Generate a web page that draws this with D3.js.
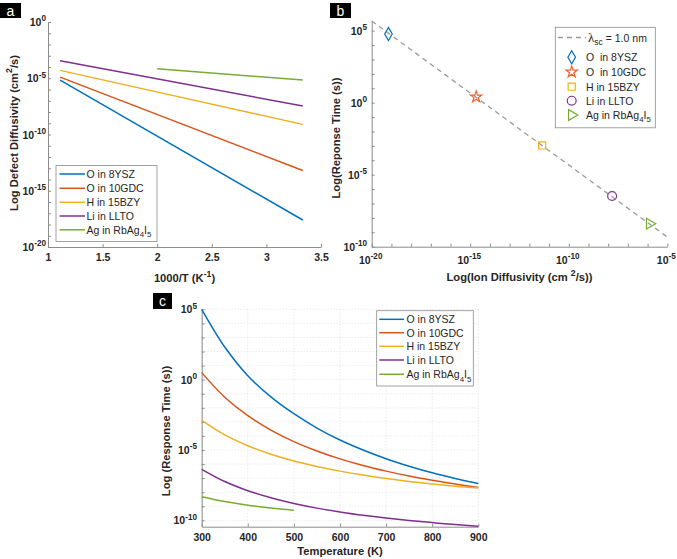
<!DOCTYPE html>
<html>
<head>
<meta charset="utf-8">
<script src="https://cdn.jsdelivr.net/npm/d3@7"></script>
<style>
    body { margin: 0; background: #fff; }
    text { font-family: "Liberation Sans", Arial, sans-serif; white-space: pre; }
</style>
</head>
<body>
<svg id="chart" width="677" height="559"></svg>
<script>
var materials = ["O in 8YSZ", "O in 10GDC", "H in 15BZY", "Li in LLTO", "Ag in RbAg_{4}I_{5}"];
var colors = ["#0072BD", "#D95319", "#EDB120", "#7E2F8E", "#77AC30"];

// panel a: log10 defect diffusivity at the two ends of each Arrhenius line
var invTStart = [1.111, 1.111, 1.111, 1.111, 2.0];
var invTEnd = [3.333, 3.333, 3.333, 3.333, 3.333];
var logDStart = [-5.16, -4.9, -4.3, -3.44, -4.15];
var logDEnd = [-17.6, -13.2, -9.1, -7.47, -5.16];
var aXTicks = [1, 1.5, 2, 2.5, 3, 3.5];
var aYExps = [0, -5, -10, -15, -20];

// panel b: log10 ion diffusivity vs log10 response time
var ionLabels = ["O  in 8YSZ", "O  in 10GDC", "H in 15BZY", "Li in LLTO", "Ag in RbAg_{4}I_{5}"];
var ionLogD = [-19.15, -14.7, -11.35, -7.8, -5.9];
var ionLogT = [4.77, 0.4, -2.97, -6.48, -8.4];
var ionColors = ["#0072BD", "#F4602A", "#EDB120", "#7E2F8E", "#77AC30"];
var fitLogD = [-20, -5];
var fitLogT = [5.67, -9.33];
var bXExps = [-20, -15, -10, -5];
var bYExps = [5, 0, -5, -10];

// panel c: log10 response time vs temperature
var temps = [300, 350, 400, 450, 500, 550, 600, 650, 700, 750, 800, 850, 900];
var tauYSZ = [5.0, 2.32, 0.28, -1.22, -2.42, -3.44, -4.29, -5.0, -5.62, -6.15, -6.62, -7.02, -7.38];
var tauGDC = [0.5, -1.25, -2.56, -3.58, -4.4, -5.07, -5.63, -6.1, -6.5, -6.85, -7.15, -7.42, -7.67];
var tauBZY = [-2.9, -3.93, -4.7, -5.3, -5.78, -6.17, -6.5, -6.78, -7.02, -7.23, -7.41, -7.57, -7.7];
var tauLLTO = [-6.37, -7.24, -7.89, -8.39, -8.8, -9.13, -9.4, -9.64, -9.84, -10.01, -10.16, -10.3, -10.41];
var tempsAg = [300, 350, 400, 450, 500];
var tauAg = [-8.32, -8.66, -8.92, -9.12, -9.28];
var cXTicks = [300, 400, 500, 600, 700, 800, 900];
var cYExps = [5, 0, -5, -10];

var axisColor = "#8c8c8c",
    textColor = "#262626",
    tickSize = 10.5,
    legendSize = 10.5,
    titleSize = 11.2;

var svg = d3.select("#chart");

// text with ^{..} superscripts and _{..} subscripts
function rich(sel, str, size, small) {
    var parts = str.split(/(\^\{[^}]*\}|_\{[^}]*\})/);
    var shift = 0;
    small = small || 0.78;
    parts.forEach(function (p) {
        if (!p) return;
        var t = sel.append("tspan");
        var target = 0, content = p;
        if (p[0] === "^") {
            target = -size * 0.45; content = p.slice(2, -1); t.attr("font-size", size * small);
        } else if (p[0] === "_") {
            target = size * 0.32; content = p.slice(2, -1); t.attr("font-size", size * small);
        }
        t.attr("dy", target - shift).text(content);
        shift = target;
    });
    return sel;
}

function panelTag(x, y, w, h, letter) {
    svg.append("rect").attr("x", x).attr("y", y).attr("width", w).attr("height", h).attr("fill", "#000");
    svg.append("text").attr("x", x + w / 2).attr("y", y + h / 2 + 5)
        .attr("text-anchor", "middle").attr("fill", "#fff").attr("font-size", 14).text(letter);
}

function styleAxis(g) {
    g.select(".domain").attr("stroke", axisColor);
    g.selectAll(".tick line").attr("stroke", axisColor);
    g.selectAll(".tick text").attr("fill", textColor).attr("font-weight", "bold")
        .attr("font-size", tickSize).attr("font-family", "Liberation Sans, Arial, sans-serif");
}

function decades(lo, hi) {
    var out = [];
    for (var e = Math.ceil(lo); e <= Math.floor(hi); e++) out.push(Math.pow(10, e));
    return out;
}

function logYLabels(y, x0, exps) {
    exps.forEach(function (e) {
        rich(svg.append("text").attr("x", x0).attr("y", y(Math.pow(10, e)) + 4)
            .attr("text-anchor", "end").attr("fill", textColor)
            .attr("font-weight", "bold").attr("font-size", tickSize), "10^{" + e + "}", tickSize);
    });
}

function axisTitle(x, y, str, rotate) {
    var t = svg.append("text").attr("text-anchor", "middle").attr("fill", textColor)
        .attr("font-weight", "bold").attr("font-size", titleSize);
    if (rotate) t.attr("transform", "translate(" + x + "," + y + ") rotate(-90)");
    else t.attr("x", x).attr("y", y);
    rich(t, str, titleSize);
}

function legendBox(x, y, w, h) {
    svg.append("rect").attr("x", x).attr("y", y).attr("width", w).attr("height", h)
        .attr("fill", "#fff").attr("stroke", "#8c8c8c").attr("stroke-width", 0.8);
}

function lineLegend(x, y, w, h, rowY, lineX1, lineX2, textX) {
    legendBox(x, y, w, h);
    materials.forEach(function (m, i) {
        svg.append("line").attr("x1", lineX1).attr("x2", lineX2)
            .attr("y1", rowY[i]).attr("y2", rowY[i])
            .attr("stroke", colors[i]).attr("stroke-width", 1.5);
        rich(svg.append("text").attr("x", textX).attr("y", rowY[i] + 4)
            .attr("fill", textColor).attr("font-size", legendSize), m, legendSize, 0.75);
    });
}

// ---------- panel a ----------
(function () {
    var left = 48, right = 321, top = 22, bottom = 247;
    var x = d3.scaleLinear().domain([1, 3.5]).range([left, right]),
        y = d3.scaleLog().domain([1e-20, 1]).range([bottom, top]);

    svg.append("g").attr("transform", "translate(0," + bottom + ")")
        .call(d3.axisBottom(x).tickValues(aXTicks).tickSize(-3).tickSizeOuter(0)
            .tickPadding(7).tickFormat(d3.format("~g")))
        .call(styleAxis);
    svg.append("g").attr("transform", "translate(" + left + ",0)")
        .call(d3.axisLeft(y).tickValues(decades(-20, 0)).tickSize(-3).tickSizeOuter(0).tickFormat(""))
        .call(styleAxis);
    logYLabels(y, 46, aYExps);

    materials.forEach(function (m, i) {
        var pts = [[invTStart[i], Math.pow(10, logDStart[i])], [invTEnd[i], Math.pow(10, logDEnd[i])]];
        svg.append("path").datum(pts)
            .attr("fill", "none").attr("stroke", colors[i]).attr("stroke-width", 1.5)
            .attr("d", d3.line().x(function (d) { return x(d[0]); }).y(function (d) { return y(d[1]); }));
    });

    lineLegend(56, 165.5, 101, 76, [174, 188.3, 202.3, 216, 229.8], 59.5, 85, 86.5);
    axisTitle(184.5, 282, "1000/T (K^{-1})", false);
    axisTitle(17.5, 133, "Log Defect Diffusivity (cm^{2}/s)", true);
    panelTag(0, 3, 21, 15, "a");
})();

// ---------- panel b ----------
(function () {
    var left = 371.7, right = 667.3, top = 21, bottom = 246.7;
    var x = d3.scaleLog().domain([1e-20, 1e-5]).range([left, right]),
        y = d3.scaleLog().domain([1e-10, Math.pow(10, 5.67)]).range([bottom, top]);

    svg.append("g").attr("transform", "translate(0," + bottom + ")")
        .call(d3.axisBottom(x).tickValues(decades(-20, -5)).tickSize(-3).tickSizeOuter(0).tickFormat(""))
        .call(styleAxis);
    svg.append("g").attr("transform", "translate(" + left + ",0)")
        .call(d3.axisLeft(y).tickValues(decades(-10, 5.67)).tickSize(-3).tickSizeOuter(0).tickFormat(""))
        .call(styleAxis);
    logYLabels(y, 367, bYExps);
    bXExps.forEach(function (e) {
        rich(svg.append("text").attr("x", x(Math.pow(10, e)) - 1).attr("y", bottom + 17)
            .attr("text-anchor", "middle").attr("fill", textColor)
            .attr("font-weight", "bold").attr("font-size", tickSize), "10^{" + e + "}", tickSize);
    });

    svg.append("path").datum(fitLogD.map(function (d, i) { return [Math.pow(10, d), Math.pow(10, fitLogT[i])]; }))
        .attr("fill", "none").attr("stroke", "#9a9a9a").attr("stroke-width", 1.3)
        .attr("stroke-dasharray", "5,4")
        .attr("d", d3.line().x(function (d) { return x(d[0]); }).y(function (d) { return y(d[1]); }));

    var shapes = [d3.symbolDiamond, d3.symbolStar, d3.symbolSquare, d3.symbolCircle, d3.symbolTriangle];
    var sizes = [50, 40, 50, 62, 50];
    var rot = [0, 0, 0, 0, 90];
    function marker(cx, cy, i) {
        svg.append("path")
            .attr("d", d3.symbol().type(shapes[i]).size(sizes[i])())
            .attr("transform", "translate(" + cx + "," + cy + ") rotate(" + rot[i] + ")")
            .attr("fill", "none").attr("stroke", ionColors[i]).attr("stroke-width", 1.2);
    }
    ionLogD.forEach(function (d, i) {
        marker(x(Math.pow(10, d)), y(Math.pow(10, ionLogT[i])), i);
    });

    // legend
    legendBox(555.3, 27.3, 100, 100.5);
    svg.append("line").attr("x1", 558).attr("x2", 586).attr("y1", 37.5).attr("y2", 37.5)
        .attr("stroke", "#9a9a9a").attr("stroke-width", 1.3).attr("stroke-dasharray", "5,4");
    var lt = svg.append("text").attr("x", 588).attr("y", 41.5).attr("fill", textColor).attr("font-size", legendSize);
    lt.append("tspan").attr("font-family", "Liberation Serif, serif").attr("font-size", 13).text("λ");
    lt.append("tspan").attr("font-size", 8.5).attr("dy", 3.6).text("sc");
    lt.append("tspan").attr("dy", -3.6).text(" = 1.0 nm");
    var rowY = [57.3, 72, 86.7, 100.7, 115];
    ionLabels.forEach(function (m, i) {
        marker(571.7, rowY[i], i);
        rich(svg.append("text").attr("x", 586).attr("y", rowY[i] + 4)
            .attr("fill", textColor).attr("font-size", legendSize), m, legendSize, 0.75);
    });

    axisTitle(519.5, 281, "Log(Ion Diffusivity (cm ^{2}/s))", false);
    axisTitle(339.5, 138, "Log(Reponse Time (s))", true);
    panelTag(330, 3, 21, 15, "b");
})();

// ---------- panel c ----------
(function () {
    var left = 201.7, right = 478.3, top = 309.3, bottom = 526.7;
    var x = d3.scaleLinear().domain([300, 900]).range([left, right]),
        y = d3.scaleLog().domain([Math.pow(10, -10.45), 1e5]).range([bottom, top]);

    var grid = svg.append("g").attr("stroke", "#d4d4d4").attr("stroke-width", 0.7).attr("stroke-dasharray", "1,2");
    decades(-10.45, 5).forEach(function (v) {
        grid.append("line").attr("x1", left).attr("x2", right).attr("y1", y(v)).attr("y2", y(v));
    });
    cXTicks.forEach(function (v) {
        grid.append("line").attr("x1", x(v)).attr("x2", x(v)).attr("y1", top).attr("y2", bottom);
    });

    svg.append("g").attr("transform", "translate(0," + bottom + ")")
        .call(d3.axisBottom(x).tickValues(cXTicks).tickSize(-3).tickSizeOuter(0).tickPadding(7))
        .call(styleAxis);
    svg.append("g").attr("transform", "translate(" + left + ",0)")
        .call(d3.axisLeft(y).tickValues(decades(-10.45, 5)).tickSize(-3).tickSizeOuter(0).tickFormat(""))
        .call(styleAxis);
    logYLabels(y, 197, cYExps);

    var series = [
        { t: temps, v: tauYSZ },
        { t: temps, v: tauGDC },
        { t: temps, v: tauBZY },
        { t: temps, v: tauLLTO },
        { t: tempsAg, v: tauAg }
    ];
    var line = d3.line().curve(d3.curveCatmullRom.alpha(0.5))
        .x(function (d) { return x(d[0]); }).y(function (d) { return y(d[1]); });
    series.forEach(function (s, i) {
        svg.append("path").datum(s.t.map(function (t, j) { return [t, Math.pow(10, s.v[j])]; }))
            .attr("fill", "none").attr("stroke", colors[i]).attr("stroke-width", 1.5)
            .attr("d", line);
    });

    lineLegend(376.7, 310.7, 96.6, 75.3, [319.3, 332.7, 346.3, 360, 374.3], 379.3, 404, 406.5);
    axisTitle(340, 555, "Temperature (K)", false);
    axisTitle(169.5, 431, "Log (Response Time (s))", true);
    panelTag(153, 293, 19, 16, "c");
})();
</script>
</body>
</html>
